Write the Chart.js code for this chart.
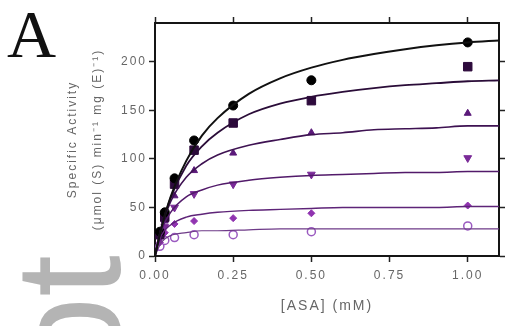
<!DOCTYPE html>
<html>
<head>
<meta charset="utf-8">
<script src="https://cdn.jsdelivr.net/npm/chart.js@4.4.0/dist/chart.umd.min.js"></script>
<style>
  html, body { margin: 0; padding: 0; background: #fff; }
</style>
</head>
<body>
<canvas id="c" width="516" height="326"></canvas>
<script>
// measured points, [ASA] in mM
const conc = [0.0156, 0.03125, 0.0625, 0.125, 0.25, 0.5, 1.0];
const s1 = [25, 45, 80, 119, 155, 181, 220];
const s2 = [22, 40, 74, 109, 137, 160, 195];
const s3 = [20, 36, 62, 88, 106, 127, 147];
const s4 = [18, 30, 50, 64, 74, 84, 101];
const s5 = [14, 24, 33, 36, 39, 44, 52];
const s6 = [10, 16, 19, 22, 22, 25, 31];

// fitted curves
const fitX = [0, 0.02, 0.05, 0.1, 0.15, 0.2, 0.3, 0.4, 0.5, 0.6, 0.7, 0.8, 0.9, 1.0, 1.1];
const fit1 = [0, 28, 61, 98, 124, 142, 167, 183, 194, 202, 208, 213, 217, 220, 222];
const fit2 = [0, 29, 60, 93, 113, 127, 146, 157, 164, 169, 173, 176, 178, 180, 181];
const fit3 = [0, 29, 56, 81, 95, 104, 114, 120, 125, 127, 130, 131, 132, 134, 134];
const fit4 = [0, 26, 45, 61, 68, 73, 78, 81, 83, 84, 85, 86, 86, 87, 87];
const fit5 = [0, 21, 32, 40, 43, 45, 47, 48, 49, 50, 50, 50, 50, 51, 51];
const fit6 = [0, 14, 21, 24, 26, 26, 27, 28, 28, 28, 28, 28, 28, 28, 28];

const xTicks = [0, 0.25, 0.5, 0.75, 1.0];
const yTicks = [0, 50, 100, 150, 200];

const pts = (xs, ys) => xs.map((x, i) => ({ x: x, y: ys[i] }));

const curve = (ys, color, w) => ({
  data: pts(fitX, ys),
  showLine: true,
  borderColor: color,
  borderWidth: w,
  pointRadius: 0,
  cubicInterpolationMode: 'monotone',
  fill: false
});

const marks = (ys, style, color, r, open) => ({
  data: pts(conc, ys),
  showLine: false,
  pointStyle: style,
  pointRadius: r,
  pointBackgroundColor: open ? '#fff' : color,
  pointBorderColor: color,
  pointBorderWidth: open ? 1.5 : 1,
  pointRotation: 0
});

const tri2 = marks(s4, 'triangle', '#7a2a98', 4.5, false);
tri2.pointRotation = 180;

const textSpacing = {
  id: 'textSpacing',
  beforeLayout(chart) { chart.ctx.letterSpacing = '2px'; },
  beforeDraw(chart) {
    const ctx = chart.ctx;
    ctx.save();
    ctx.letterSpacing = '0px';
    ctx.fillStyle = '#fff';
    ctx.fillRect(0, 0, chart.width, chart.height);
    ctx.restore();
    ctx.letterSpacing = '2px';
  },
  afterDraw(chart) {
    const ctx = chart.ctx;
    ctx.save();
    ctx.letterSpacing = '0px';
    // panel letter
    ctx.fillStyle = '#111';
    ctx.font = '68px "Liberation Serif", "DejaVu Serif", serif';
    ctx.textBaseline = 'alphabetic';
    ctx.fillText('A', 7, 57);
    // watermark
    ctx.fillStyle = '#b4b4b4';
    ctx.font = '150px "Liberation Sans", Arial, sans-serif';
    ctx.translate(120, 255);
    ctx.rotate(-Math.PI / 2);
    ctx.textAlign = 'right';
    ctx.fillText('pt', 0, 0);
    ctx.restore();
  }
};

const axisGrid = { drawOnChartArea: false, drawTicks: true, tickLength: 6, tickWidth: 1.5, tickColor: '#222' };
const axisBorder = { display: true, color: '#151515', width: 2 };
const tickFont = { family: '"Liberation Sans", Arial, sans-serif', size: 12 };

new Chart(document.getElementById('c'), {
  type: 'scatter',
  data: {
    datasets: [
      curve(fit1, '#111', 2),
      curve(fit2, '#2a0c38', 1.8),
      curve(fit3, '#3e1252', 1.6),
      curve(fit4, '#521a6a', 1.5),
      curve(fit5, '#5e2478', 1.4),
      curve(fit6, '#6e3a88', 1.2),
      marks(s1, 'circle', '#000', 4.5, false),
      marks(s2, 'rect', '#2d0a3c', 6, false),
      marks(s3, 'triangle', '#5b1a7a', 4, false),
      tri2,
      marks(s5, 'rectRot', '#9033b0', 3.5, false),
      marks(s6, 'circle', '#9a5ac0', 4, true)
    ]
  },
  options: {
    responsive: false,
    animation: false,
    devicePixelRatio: 1,
    layout: { padding: 0 },
    plugins: { legend: { display: false }, tooltip: { enabled: false } },
    scales: {
      x: {
        type: 'linear', position: 'bottom', min: 0, max: 1.1,
        grid: axisGrid, border: axisBorder,
        ticks: {
          includeBounds: false, stepSize: 0.25, padding: 6, color: '#666', font: tickFont,
          maxRotation: 0, autoSkip: false,
          callback: v => v.toFixed(2)
        },
        afterBuildTicks: s => { s.ticks = xTicks.map(v => ({ value: v })); },
        afterFit: s => { s.height = 70; },
        title: {
          display: true, text: '[ASA] (mM)', color: '#666',
          font: { family: '"Liberation Sans", Arial, sans-serif', size: 14, lineHeight: 1.2 },
          padding: { top: 0, bottom: 11 }
        }
      },
      x2: {
        type: 'linear', position: 'top', min: 0, max: 1.1,
        grid: axisGrid, border: axisBorder,
        ticks: { display: false, includeBounds: false },
        afterBuildTicks: s => { s.ticks = xTicks.map(v => ({ value: v })); },
        afterFit: s => { s.height = 23; }
      },
      y: {
        type: 'linear', position: 'left', min: 0, max: 240,
        grid: axisGrid, border: axisBorder,
        ticks: { includeBounds: false, stepSize: 50, padding: 2, color: '#666', font: tickFont },
        afterBuildTicks: s => { s.ticks = yTicks.map(v => ({ value: v })); },
        afterFit: s => { s.width = 155; },
        title: {
          display: true,
          text: ['Specific Activity', '(\u03bcmol (S) min\u207b\u00b9 mg (E)\u207b\u00b9)'],
          color: '#666',
          font: { family: '"Liberation Sans", Arial, sans-serif', size: 12, lineHeight: 2.08 },
          padding: { top: 60, bottom: 0 }
        }
      },
      y2: {
        type: 'linear', position: 'right', min: 0, max: 240,
        grid: axisGrid, border: axisBorder,
        ticks: { display: false, includeBounds: false },
        afterBuildTicks: s => { s.ticks = yTicks.map(v => ({ value: v })); },
        afterFit: s => { s.width = 17; }
      }
    }
  },
  plugins: [textSpacing]
});
</script>
</body>
</html>
